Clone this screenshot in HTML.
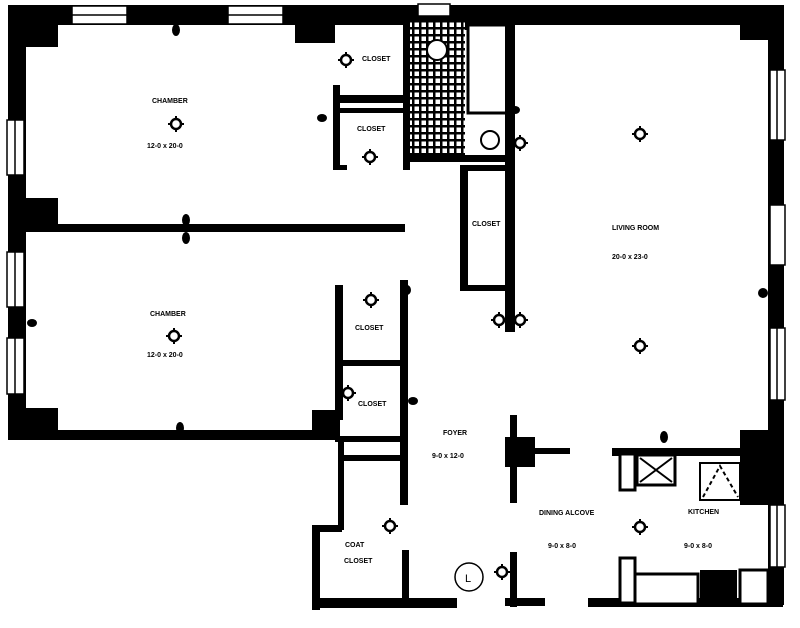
<!DOCTYPE html>
<html><head><style>
html,body{margin:0;padding:0;background:#fff;width:800px;height:628px;overflow:hidden}
svg{display:block}
text{font-family:"Liberation Sans",sans-serif;font-weight:bold;font-size:7px;fill:#000}
</style></head><body>
<svg width="800" height="628" viewBox="0 0 800 628">
<defs>
<g id="fx"><circle r="5" fill="#fff" stroke="#000" stroke-width="2.5"/><rect x="-1" y="-8" width="2" height="3"/><rect x="-1" y="5" width="2" height="3"/><rect x="-8" y="-1" width="3" height="2"/><rect x="5" y="-1" width="3" height="2"/></g>
<pattern id="tile" width="7" height="7" patternUnits="userSpaceOnUse"><rect width="7" height="7" fill="#000"/><rect x="1.5" y="1.5" width="4.5" height="4.5" fill="#fff"/></pattern>
</defs>
<g fill="#000">
<rect x="8" y="5" width="775" height="20"/>
<rect x="8" y="5" width="18" height="435"/>
<rect x="768" y="5" width="16" height="600"/>
<rect x="8" y="5" width="50" height="42"/>
<rect x="295" y="5" width="40" height="38"/>
<rect x="740" y="5" width="40" height="35"/>
<rect x="8" y="198" width="50" height="34"/>
<rect x="8" y="408" width="50" height="32"/>
<rect x="20" y="224" width="385" height="8"/>
<rect x="20" y="430" width="320" height="10"/>
<rect x="312" y="410" width="28" height="30"/>
<rect x="333" y="85" width="7" height="85"/>
<rect x="333" y="95" width="75" height="8"/>
<rect x="333" y="108" width="75" height="5"/>
<rect x="333" y="165" width="14" height="5"/>
<rect x="403" y="25" width="7" height="145"/>
<rect x="335" y="285" width="8" height="135"/>
<rect x="335" y="360" width="70" height="6"/>
<rect x="400" y="280" width="8" height="225"/>
<rect x="335" y="436" width="70" height="6"/>
<rect x="338" y="455" width="67" height="6"/>
<rect x="338" y="440" width="6" height="90"/>
<rect x="312" y="525" width="30" height="7"/>
<rect x="312" y="525" width="8" height="85"/>
<rect x="402" y="550" width="7" height="55"/>
<rect x="312" y="598" width="145" height="10"/>
<rect x="410" y="22" width="55" height="138" fill="url(#tile)"/>
<rect x="465" y="22" width="45" height="8"/>
<rect x="408" y="155" width="100" height="7"/>
<rect x="468" y="25" width="40" height="88" fill="#fff" stroke="#000" stroke-width="3"/>
<circle cx="437" cy="50" r="10" fill="#fff" stroke="#000" stroke-width="2"/>
<circle cx="490" cy="140" r="9" fill="#fff" stroke="#000" stroke-width="2"/>
<rect x="505" y="22" width="10" height="310"/>
<rect x="460" y="165" width="8" height="125"/>
<rect x="460" y="165" width="48" height="6"/>
<rect x="460" y="285" width="48" height="6"/>
<rect x="510" y="415" width="7" height="88"/>
<rect x="505" y="437" width="30" height="30"/>
<rect x="530" y="448" width="40" height="6"/>
<rect x="510" y="552" width="7" height="55"/>
<rect x="505" y="598" width="40" height="8"/>
<rect x="588" y="598" width="195" height="9"/>
<rect x="612" y="448" width="130" height="8"/>
<rect x="740" y="430" width="32" height="75"/>
<rect x="620" y="454" width="15" height="36" fill="#fff" stroke="#000" stroke-width="3"/>
<rect x="637" y="455" width="38" height="30" fill="#fff" stroke="#000" stroke-width="3"/>
<path d="M640 458 L672 482 M672 458 L640 482" stroke="#000" stroke-width="2"/>
<rect x="700" y="463" width="40" height="37" fill="#fff" stroke="#000" stroke-width="2"/>
<path d="M703 497 L720 466 L738 497" fill="none" stroke="#000" stroke-width="2" stroke-dasharray="4 3"/>
<rect x="620" y="558" width="15" height="45" fill="#fff" stroke="#000" stroke-width="3"/>
<rect x="635" y="574" width="63" height="30" fill="#fff" stroke="#000" stroke-width="3"/>
<rect x="700" y="570" width="37" height="34"/>
<rect x="740" y="570" width="28" height="34" fill="#fff" stroke="#000" stroke-width="3"/>
</g>
<g fill="#fff" stroke="#000" stroke-width="1.5">
<rect x="72" y="6" width="55" height="18"/><line x1="72" y1="15" x2="127" y2="15"/>
<rect x="228" y="6" width="55" height="18"/><line x1="228" y1="15" x2="283" y2="15"/>
<rect x="418" y="4" width="32" height="12"/>
<rect x="7" y="120" width="17" height="55"/><line x1="15" y1="120" x2="15" y2="175"/>
<rect x="7" y="252" width="17" height="55"/><line x1="15" y1="252" x2="15" y2="307"/>
<rect x="7" y="338" width="17" height="56"/><line x1="15" y1="338" x2="15" y2="394"/>
<rect x="770" y="70" width="15" height="70"/><line x1="777" y1="70" x2="777" y2="140"/>
<rect x="770" y="205" width="15" height="60"/>
<rect x="770" y="328" width="15" height="72"/><line x1="777" y1="328" x2="777" y2="400"/>
<rect x="770" y="505" width="15" height="62"/><line x1="777" y1="505" x2="777" y2="567"/>
</g>
<use href="#fx" x="176" y="124"/>
<use href="#fx" x="174" y="336"/>
<use href="#fx" x="346" y="60"/>
<use href="#fx" x="370" y="157"/>
<use href="#fx" x="371" y="300"/>
<use href="#fx" x="348" y="393"/>
<use href="#fx" x="390" y="526"/>
<use href="#fx" x="640" y="134"/>
<use href="#fx" x="640" y="346"/>
<use href="#fx" x="499" y="320"/>
<use href="#fx" x="520" y="320"/>
<use href="#fx" x="520" y="143"/>
<use href="#fx" x="640" y="527"/>
<use href="#fx" x="502" y="572"/>
<g fill="#000">
<ellipse cx="176" cy="30" rx="4" ry="6"/>
<ellipse cx="186" cy="220" rx="4" ry="6"/><ellipse cx="186" cy="238" rx="4" ry="6"/>
<ellipse cx="32" cy="323" rx="5" ry="4"/><ellipse cx="180" cy="428" rx="4" ry="6"/>
<ellipse cx="664" cy="437" rx="4" ry="6"/><ellipse cx="763" cy="293" rx="5" ry="5"/>
<ellipse cx="322" cy="118" rx="5" ry="4"/><ellipse cx="515" cy="110" rx="5" ry="4"/>
<ellipse cx="413" cy="401" rx="5" ry="4"/><ellipse cx="407" cy="290" rx="4" ry="5"/>
</g>
<circle cx="469" cy="577" r="14" fill="#fff" stroke="#000" stroke-width="1.5"/>
<text x="465" y="582" style="font-size:11px;font-weight:normal">L</text>
<text x="152" y="103">CHAMBER</text>
<text x="147" y="148">12-0 x 20-0</text>
<text x="150" y="316">CHAMBER</text>
<text x="147" y="357">12-0 x 20-0</text>
<text x="362" y="61">CLOSET</text>
<text x="357" y="131">CLOSET</text>
<text x="472" y="226">CLOSET</text>
<text x="355" y="330">CLOSET</text>
<text x="358" y="406">CLOSET</text>
<text x="612" y="230">LIVING ROOM</text>
<text x="612" y="259">20-0 x 23-0</text>
<text x="443" y="435">FOYER</text>
<text x="432" y="458">9-0 x 12-0</text>
<text x="539" y="515">DINING ALCOVE</text>
<text x="548" y="548">9-0 x 8-0</text>
<text x="688" y="514">KITCHEN</text>
<text x="684" y="548">9-0 x 8-0</text>
<text x="345" y="547">COAT</text>
<text x="344" y="563">CLOSET</text>
</svg>
</body></html>
